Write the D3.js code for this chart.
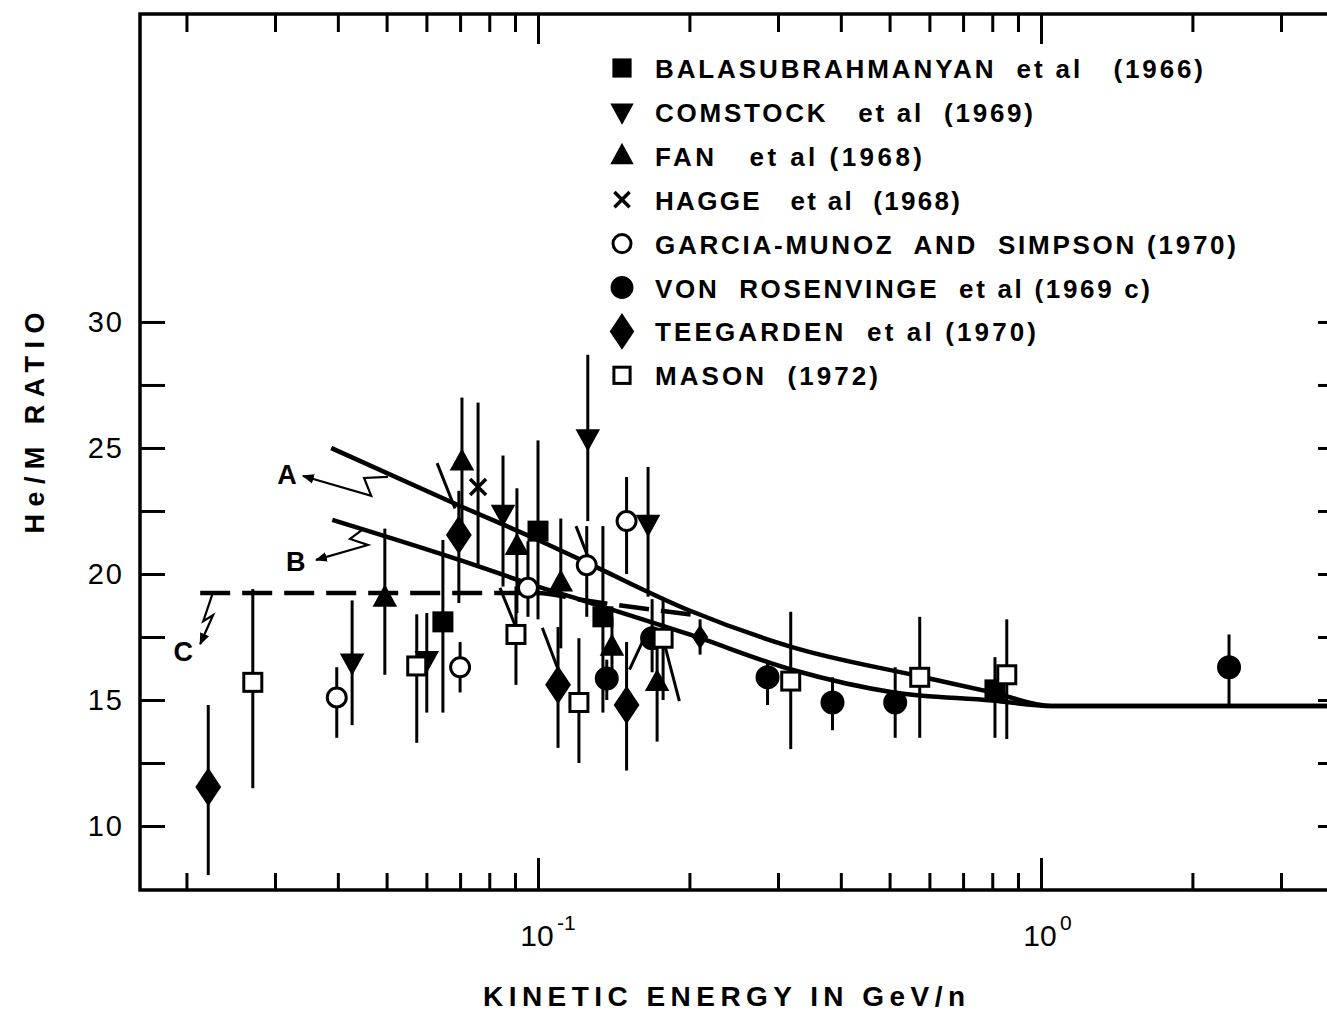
<!DOCTYPE html>
<html><head><meta charset="utf-8">
<script src="https://cdn.jsdelivr.net/npm/d3@7"></script>
<style>
html,body{margin:0;padding:0;background:#fff;}
svg{display:block;}
text{font-family:"Liberation Sans","DejaVu Sans",sans-serif;fill:#000;}
</style></head>
<body>
<svg id="chart" width="1327" height="1011"></svg>
<script>
// ---------------- DATA ----------------
const balasE  = [0.0647, 0.100, 0.1346, 0.810];
const balasV  = [18.1, 21.7, 18.3, 15.4];
const balasLo = [14.5, 18.2, 14.5, 13.5];
const balasHi = [21.35, 25.3, 21.9, 16.7];

const comstockE  = [0.0427, 0.0601, 0.0852, 0.1256, 0.1655];
const comstockV  = [16.5, 16.6, 22.4, 25.4, 22.0];
const comstockLo = [14.0, 14.5, 19.5, 22.1, 19.1];
const comstockHi = [18.95, 18.45, 24.7, 28.7, 24.25];

const fanE  = [0.0496, 0.0706, 0.0908, 0.111, 0.1403, 0.1725];
const fanV  = [19.05, 24.45, 21.1, 19.65, 17.1, 15.7];
const fanLo = [16.0, 21.5, 18.45, 17.05, 15.8, 13.35];
const fanHi = [21.8, 27.0, 23.4, 22.2, 18.3, 17.1];

const haggeE  = [0.076];
const haggeV  = [23.45];
const haggeLo = [20.3];
const haggeHi = [26.8];

const garciaE  = [0.0398, 0.0700, 0.0955, 0.125, 0.150];
const garciaV  = [15.1, 16.3, 19.45, 20.35, 22.1];
const garciaLo = [13.5, 15.3, 18.3, 18.3, 20.0];
const garciaHi = [16.3, 17.3, 21.3, 21.9, 23.85];

const vonE  = [0.137, 0.1686, 0.286, 0.385, 0.513, 2.365];
const vonV  = [15.85, 17.45, 15.9, 14.9, 14.9, 16.3];
const vonLo = [15.0, 16.1, 14.8, 13.8, 13.5, 14.8];
const vonHi = [16.6, 19.0, 16.5, 15.9, 16.3, 17.6];

const teegE  = [0.0221, 0.0696, 0.1096, 0.150, 0.21];
const teegV  = [11.55, 21.55, 15.6, 14.8, 17.5];
const teegLo = [8.05, 18.85, 13.1, 12.2, 16.8];
const teegHi = [14.8, 23.3, 17.9, 17.3, 18.2];

const masonE  = [0.0271, 0.0574, 0.0904, 0.1206, 0.1773, 0.318, 0.574, 0.855];
const masonV  = [15.7, 16.35, 17.6, 14.9, 17.45, 15.75, 15.9, 16.0];
const masonLo = [11.5, 13.3, 15.6, 12.5, 15.0, 13.05, 13.5, 13.45];
const masonHi = [19.4, 18.4, 19.5, 17.45, 19.0, 18.5, 18.3, 18.2];

// slanted range bars [E1, v1, E2, v2]
const slantBars = [
  [0.0630, 24.4, 0.0684, 22.6],
  [0.0840, 19.45, 0.0900, 17.98],
  [0.1020, 17.86, 0.1116, 15.8],
  [0.1190, 21.9, 0.1256, 20.7],
  [0.1780, 17.3, 0.1910, 14.95],
  [0.1520, 16.2, 0.1630, 17.5]
];

// model curves
const curveAE = [0.0388, 0.07, 0.1, 0.125, 0.2, 0.32, 0.57, 0.8, 1.05, 3.985];
const curveAV = [25.0, 22.7, 21.35, 20.45, 18.55, 17.1, 15.95, 15.3, 14.76, 14.76];
const curveBE = [0.039, 0.07, 0.1, 0.125, 0.2, 0.32, 0.51, 0.8, 1.05, 3.985];
const curveBV = [22.15, 20.55, 19.5, 18.9, 17.6, 16.2, 15.3, 14.98, 14.76, 14.76];
const curveCE = [0.0213, 0.1, 0.12, 0.14, 0.21];
const curveCV = [19.25, 19.25, 19.0, 18.8, 18.35];

// annotation labels and zigzag arrows (data coords)
const annLabels = ["A", "B", "C"];
const annLabelE = [0.0317, 0.0330, 0.0197];
const annLabelV = [23.95, 20.5, 16.94];
const arrowAE = [0.0503, 0.0451, 0.0466, 0.0341];
const arrowAV = [23.85, 23.81, 23.1, 23.89];
const arrowBE = [0.0447, 0.0423, 0.0459, 0.0362];
const arrowBV = [21.75, 21.39, 21.15, 20.56];
const arrowCE = [0.0225, 0.0216, 0.0226, 0.0213];
const arrowCV = [19.17, 18.13, 18.37, 17.22];

// axes
const xMinorTicks = [0.02,0.03,0.04,0.05,0.06,0.07,0.08,0.09,0.2,0.3,0.4,0.5,0.6,0.7,0.8,0.9,2,3];
const xMajorTicks = [0.1, 1];
const xMajorExp = ["-1", "0"];
const yTicks = [10, 12.5, 15, 17.5, 20, 22.5, 25, 27.5, 30];
const yLabelTicks = [10, 15, 20, 25, 30];

const legendLabels = [
  "BALASUBRAHMANYAN  et al   (1966)",
  "COMSTOCK   et al  (1969)",
  "FAN   et al (1968)",
  "HAGGE   et al  (1968)",
  "GARCIA-MUNOZ  AND  SIMPSON (1970)",
  "VON  ROSENVINGE  et al (1969 c)",
  "TEEGARDEN  et al (1970)",
  "MASON  (1972)"
];
const legendWidths = [548, 378, 267, 305, 581, 495, 381, 223];
const legendSymbols = ["sqF","triD","triU","x","circO","circF","diam","sqO"];

// ---------------- DRAW ----------------
const svg = d3.select("#chart");
const L = 140, R = 1343, T = 14, B = 890;
const x = d3.scaleLog().domain([0.01617, 3.985]).range([L, R]);
const y = d3.scaleLinear().domain([7.46, 42.22]).range([B, T]);

svg.append("defs").append("marker")
  .attr("id","ah").attr("viewBox","0 0 10 10").attr("refX",9).attr("refY",5)
  .attr("markerWidth",12).attr("markerHeight",12).attr("markerUnits","userSpaceOnUse")
  .attr("orient","auto")
  .append("path").attr("d","M0,1 L10,5 L0,9 Z").attr("fill","#000");

// frame
svg.append("rect").attr("x",L).attr("y",T).attr("width",R-L).attr("height",B-T)
  .attr("fill","none").attr("stroke","#000").attr("stroke-width",3.5);

function styleAxis(g){
  g.select(".domain").remove();
  g.selectAll("line").attr("stroke","#000").attr("stroke-width",3);
}
svg.append("g").attr("transform",`translate(0,${B})`)
  .call(d3.axisBottom(x).tickValues(xMinorTicks).tickSizeInner(-17).tickSizeOuter(0).tickFormat(""))
  .call(styleAxis);
svg.append("g").attr("transform",`translate(0,${B})`)
  .call(d3.axisBottom(x).tickValues(xMajorTicks).tickSizeInner(-32).tickSizeOuter(0).tickFormat(""))
  .call(styleAxis);
svg.append("g").attr("transform",`translate(0,${T})`)
  .call(d3.axisTop(x).tickValues(xMinorTicks).tickSizeInner(-18).tickSizeOuter(0).tickFormat(""))
  .call(styleAxis);
svg.append("g").attr("transform",`translate(0,${T})`)
  .call(d3.axisTop(x).tickValues(xMajorTicks).tickSizeInner(-30).tickSizeOuter(0).tickFormat(""))
  .call(styleAxis);
const yl = svg.append("g").attr("transform",`translate(${L},0)`)
  .call(d3.axisLeft(y).tickValues(yTicks).tickSizeInner(-25).tickSizeOuter(0).tickPadding(16)
    .tickFormat(d => yLabelTicks.includes(d) ? String(d) : ""))
  .call(styleAxis);
yl.selectAll("text").attr("font-size",29).attr("font-family","Liberation Sans, sans-serif")
  .attr("letter-spacing",2).attr("fill","#000");
svg.append("g").attr("transform",`translate(${R},0)`)
  .call(d3.axisRight(y).tickValues(yTicks).tickSizeInner(-25).tickSizeOuter(0).tickFormat(""))
  .call(styleAxis);

// x tick labels 10^n
xMajorTicks.forEach((t,i)=>{
  svg.append("text").attr("x",x(t)-1).attr("y",946).attr("text-anchor","middle")
    .attr("font-size",30).text("10");
  svg.append("text").attr("x",x(t)+19).attr("y",930).attr("text-anchor","start")
    .attr("font-size",21).text(xMajorExp[i]);
});

// axis titles
svg.append("text").attr("x",724).attr("y",1006).attr("text-anchor","middle")
  .attr("font-size",28).attr("font-weight","bold").attr("textLength",482)
  .attr("lengthAdjust","spacing").text("KINETIC ENERGY IN GeV/n");
svg.append("text").attr("transform","translate(44,423) rotate(-90)")
  .attr("text-anchor","middle").attr("font-size",27).attr("font-weight","bold")
  .attr("textLength",221).attr("lengthAdjust","spacing").text("He/M RATIO");

// curves
const line = d3.line().x(d=>x(d[0])).y(d=>y(d[1])).curve(d3.curveMonotoneX);
const zipP = (a,b)=>a.map((e,i)=>[e,b[i]]);
svg.append("path").attr("d",line(zipP(curveAE,curveAV))).attr("fill","none")
  .attr("stroke","#000").attr("stroke-width",4.5);
svg.append("path").attr("d",line(zipP(curveBE,curveBV))).attr("fill","none")
  .attr("stroke","#000").attr("stroke-width",4.5);
svg.append("path").attr("d",line(zipP(curveCE,curveCV))).attr("fill","none")
  .attr("stroke","#000").attr("stroke-width",4.5).attr("stroke-dasharray","30 12");

// annotations
annLabels.forEach((t,i)=>{
  svg.append("text").attr("x",x(annLabelE[i])).attr("y",y(annLabelV[i])+10)
    .attr("text-anchor","middle").attr("font-size",27).attr("font-weight","bold").text(t);
});
const lineStraight = d3.line().x(d=>x(d[0])).y(d=>y(d[1]));
[[arrowAE,arrowAV],[arrowBE,arrowBV],[arrowCE,arrowCV]].forEach(([ae,av])=>{
  svg.append("path").attr("d",lineStraight(zipP(ae,av))).attr("fill","none")
    .attr("stroke","#000").attr("stroke-width",2.2).attr("marker-end","url(#ah)");
});

// error bars
const series = [
  {E:balasE,V:balasV,Lo:balasLo,Hi:balasHi,s:"sqF"},
  {E:comstockE,V:comstockV,Lo:comstockLo,Hi:comstockHi,s:"triD"},
  {E:fanE,V:fanV,Lo:fanLo,Hi:fanHi,s:"triU"},
  {E:haggeE,V:haggeV,Lo:haggeLo,Hi:haggeHi,s:"x"},
  {E:garciaE,V:garciaV,Lo:garciaLo,Hi:garciaHi,s:"circO"},
  {E:vonE,V:vonV,Lo:vonLo,Hi:vonHi,s:"circF"},
  {E:teegE,V:teegV,Lo:teegLo,Hi:teegHi,s:"diam"},
  {E:masonE,V:masonV,Lo:masonLo,Hi:masonHi,s:"sqO"}
];
const gBars = svg.append("g");
series.forEach(sr=>{
  sr.E.forEach((e,i)=>{
    gBars.append("line").attr("x1",x(e)).attr("x2",x(e))
      .attr("y1",y(sr.Lo[i])).attr("y2",y(sr.Hi[i]))
      .attr("stroke","#000").attr("stroke-width",3);
  });
});
slantBars.forEach(b=>{
  gBars.append("line").attr("x1",x(b[0])).attr("y1",y(b[1])).attr("x2",x(b[2])).attr("y2",y(b[3]))
    .attr("stroke","#000").attr("stroke-width",3);
});

// markers
function drawSymbol(g, s, cx, cy, scale){
  scale = scale || 1;
  const k = scale;
  if (s==="sqF" || s==="sqO"){
    g.append("rect").attr("x",cx-9*k).attr("y",cy-9*k).attr("width",18*k).attr("height",18*k)
      .attr("fill", s==="sqF" ? "#000" : "#fff").attr("stroke","#000").attr("stroke-width",3);
  } else if (s==="circF" || s==="circO"){
    g.append("circle").attr("cx",cx).attr("cy",cy).attr("r",s==="circF"?10.5*k:9.5*k)
      .attr("fill", s==="circF" ? "#000" : "#fff").attr("stroke","#000").attr("stroke-width",3);
  } else if (s==="triU"){
    g.append("path").attr("d",`M${cx},${cy-12*k}L${cx+11*k},${cy+8*k}L${cx-11*k},${cy+8*k}Z`)
      .attr("fill","#000").attr("stroke","#000").attr("stroke-width",1.5);
  } else if (s==="triD"){
    g.append("path").attr("d",`M${cx},${cy+12*k}L${cx+11*k},${cy-8*k}L${cx-11*k},${cy-8*k}Z`)
      .attr("fill","#000").attr("stroke","#000").attr("stroke-width",1.5);
  } else if (s==="diam"){
    g.append("path").attr("d",`M${cx},${cy-18*k}L${cx+12*k},${cy}L${cx},${cy+18*k}L${cx-12*k},${cy}Z`)
      .attr("fill","#000").attr("stroke","#000").attr("stroke-width",1.5);
  } else if (s==="x"){
    g.append("path").attr("d",`M${cx-8*k},${cy-8*k}L${cx+8*k},${cy+8*k}M${cx+8*k},${cy-8*k}L${cx-8*k},${cy+8*k}`)
      .attr("stroke","#000").attr("stroke-width",3.5).attr("fill","none");
  }
}
const gMarks = svg.append("g");
series.forEach(sr=>{
  sr.E.forEach((e,i)=> drawSymbol(gMarks, sr.s, x(e), y(sr.V[i]), (sr.s==="diam" && sr.V[i]>17 && sr.V[i]<18) ? 0.6 : 1));
});

// legend
const gLeg = svg.append("g");
legendLabels.forEach((t,i)=>{
  const cy = 68 + i*43.9;
  drawSymbol(gLeg, legendSymbols[i], 622, cy, legendSymbols[i]==="sqF"||legendSymbols[i]==="sqO"?0.9:0.95);
  gLeg.append("text").attr("x",655).attr("y",cy+10).attr("font-size",26).attr("font-weight","bold")
    .attr("textLength",legendWidths[i]).attr("lengthAdjust","spacing")
    .style("white-space","pre").text(t);
});
</script>
</body></html>
